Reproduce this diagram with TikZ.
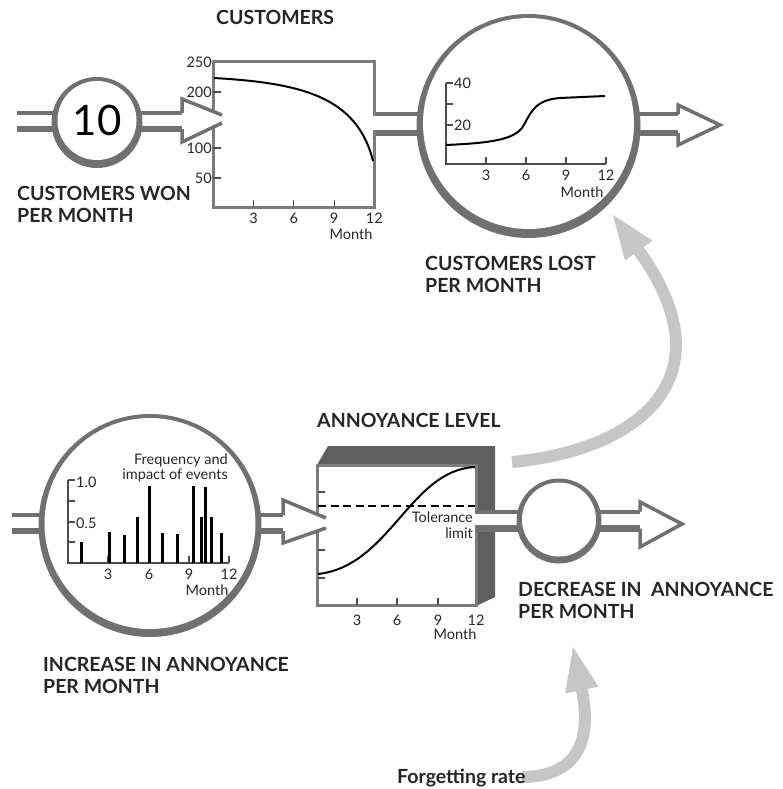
\documentclass[tikz,border=0pt]{standalone}
\usepackage{fontspec}
\setmainfont{Lato}
\usetikzlibrary{arrows.meta}
\definecolor{pipegray}{HTML}{707070}
\definecolor{slabgray}{HTML}{5E5E5E}
\definecolor{framegray}{HTML}{7C7C7C}
\definecolor{linkgray}{HTML}{C6C6C6}
\tikzset{
  caption/.style={anchor=base west, align=left, inner sep=0pt,
    font=\bfseries\fontsize{19.5}{22}\selectfont, text=black!85},
  ticklabel/.style={inner sep=1pt, font=\fontsize{14.5}{15.5}\selectfont, text=black!85},
  pipetop/.style={draw=pipegray, line width=4pt},
  pipebottom/.style={draw=pipegray, line width=6.5pt},
  pipehead/.style={draw=pipegray, line width=3.5pt, line join=miter},
  valve/.style={circle, fill=white, inner sep=0pt},
  chartbox/.style={draw=framegray, line width=3pt, fill=white, inner sep=0pt},
  chartaxis/.style={draw=black!70, line width=1.1pt},
  trend/.style={draw=black, line width=2pt},
  eventbar/.style={draw=black, line width=3pt},
  tolerance/.style={draw=black, line width=2pt, dash pattern=on 8pt off 4.5pt},
  link/.style={draw=linkgray, line width=12pt,
    -{Triangle[width=34pt,length=44pt,line width=0pt]}},
}

\begin{document}
\begin{tikzpicture}[x=1pt,y=-1pt]
  \useasboundingbox (0,0) rectangle (782,789);

  \newcommand\MonthW{13.4}

  % top row: flows in and out of the customers stock
  \draw[pipetop] (17,113) -- (182,113);
  \draw[pipebottom] (17,129) -- (182,129);
  \draw[pipetop] (374,114.5) -- (678,114.5);
  \draw[pipebottom] (374,133) -- (678,133);

  \fill[pipegray] (97,122.5) circle (45.5pt);
  \node[valve, minimum size=79pt] (won) at (97,120.5) {\fontsize{42}{42}\selectfont 10};
  \fill[pipegray] (528.5,126) circle (112pt);
  \node[valve, minimum size=211pt] (lost) at (528.5,123.5) {};

  \node[chartbox, minimum width=161pt, minimum height=145pt] (customers) at (293.5,134.5) {};
  \foreach \y in {92,120,148,178}
    \draw[chartaxis] (213,\y) -- (221,\y);
  \foreach \v/\y in {250/62,200/92,100/148,50/178}
    \node[ticklabel, anchor=east] (cy\v) at (213,\y) {\v};
  \foreach \m in {3,6,9}
    \draw[chartaxis] (213.5+\MonthW*\m,207) -- ++(0,-7);
  \foreach \m in {3,6,9,12}
    \node[ticklabel] (cx\m) at (213.5+\MonthW*\m,218) {\m};
  \node[ticklabel] (cmonth) at (351,234) {Month};
  \draw[trend] (214,78) .. controls (300,83) and (357,96) .. (373,161);
  \fill[white] (371,116.5) rectangle (377,129.75);

  % hollow arrow heads
  \fill[white] (182,99) -- (222,115) -- (222,123) -- (182,142) -- cycle;
  \draw[pipehead] (182,113) -- (182,99) -- (222,115);
  \draw[pipehead] (182,129) -- (182,142) -- (222,123);
  \filldraw[pipehead, fill=white] (678,114.5) -- (678,105) -- (720,125) -- (678,145) -- (678,133);

  % chart inside the outflow valve
  \draw[chartaxis] (446,83) -- (446,164) -- (606,164);
  \foreach \y in {83,104,125}
    \draw[chartaxis] (446,\y) -- ++(7,0);
  \node[ticklabel, anchor=west] (ly40) at (453,83) {40};
  \node[ticklabel, anchor=west] (ly20) at (453,125) {20};
  \foreach \m in {3,6,9,12} {
    \draw[chartaxis] (446+13.33*\m,164) -- ++(0,-7);
    \node[ticklabel] (lx\m) at (446+13.33*\m,175) {\m};
  }
  \node[ticklabel] (lmonth) at (582,192) {Month};
  \draw[trend] (446,145) .. controls (490,143) and (512,140) .. (522,128)
    .. controls (530,116) and (532,100) .. (560,98) -- (605,96);

  % bottom row: annoyance level stock
  \fill[slabgray] (317,465) -- (328,446) -- (495,446) -- (495,597) -- (476,606) -- (476,465) -- cycle;
  \node[chartbox, minimum width=159pt, minimum height=140pt] (annoyance) at (396.5,535) {};
  \foreach \y in {492,521,550,578}
    \draw[chartaxis] (318,\y) -- ++(7,0);
  \foreach \m/\x in {3/357,6/397,9/438}
    \draw[chartaxis] (\x,605) -- ++(0,-7);
  \foreach \m/\x in {3/357,6/397,9/438,12/476}
    \node[ticklabel] (ax\m) at (\x,620) {\m};
  \node[ticklabel] (amonth) at (455,634) {Month};
  \draw[tolerance] (318,506) -- (475,506);
  \draw[trend] (318,574) .. controls (390,566) and (410,470) .. (475,467);
  \node[ticklabel, align=right, anchor=east] (tol) at (474,525) {Tolerance\\limit};

  \draw[pipetop] (12,515) -- (283,515);
  \draw[pipebottom] (12,531) -- (283,531);
  \fill[white] (283,500) -- (326,518) -- (326,528) -- (283,543) -- cycle;
  \draw[pipehead] (283,515) -- (283,500) -- (326,518);
  \draw[pipehead] (283,531) -- (283,543) -- (326,528);

  \fill[white] (474,513.75) rectangle (640,525.25);
  \draw[pipetop] (476,511.5) -- (640,511.5);
  \draw[pipebottom] (476,528.5) -- (640,528.5);
  \filldraw[pipehead, fill=white] (640,511.5) -- (640,502) -- (682,524) -- (640,547) -- (640,528.5);

  \fill[pipegray] (150,525.5) circle (111.5pt);
  \node[valve, minimum size=211pt] (increase) at (150,523.5) {};
  \fill[pipegray] (559,521) circle (42.5pt);
  \node[valve, minimum size=74pt] (decrease) at (559,519.5) {};

  % events inside the inflow valve
  \draw[chartaxis] (68,480) -- (68,563) -- (229,563);
  \foreach \y in {480,501,522,542}
    \draw[chartaxis] (68,\y) -- ++(7,0);
  \node[ticklabel, anchor=west] (ey10) at (75,482) {1.0};
  \node[ticklabel, anchor=west] (ey05) at (75,523) {0.5};
  \foreach \m/\x in {3/108,6/149,9/189,12/229} {
    \draw[chartaxis] (\x,563) -- ++(0,-7);
    \node[ticklabel] (ex\m) at (\x,574) {\m};
  }
  \node[ticklabel] (emonth) at (207,590) {Month};
  \foreach \x/\y in {81/542,109/532,124/535,137/517,149/486,162/533,177/534,
                     193/486,201/517,205/487,211/517,221/533}
    \draw[eventbar] (\x,563) -- (\x,\y);
  \node[ticklabel, align=right, anchor=east] (events) at (229,468) {Frequency and\\impact of events};

  % influences
  \coordinate (annoyout) at (512,462);
  \coordinate (lostin) at (613,215);
  \draw[link] (annoyout) .. controls (640,450) and (730,377) .. (lostin);
  \coordinate (forget) at (522,777);
  \coordinate (decreasein) at (573,647);
  \draw[link] (forget) .. controls (565,777) and (595,754) .. (decreasein);

  % captions (base is the last line)
  \node[caption] (lblcustomers) at (216,25) {CUSTOMERS};
  \node[caption] (lblwon) at (17,222) {CUSTOMERS WON\\PER MONTH};
  \node[caption] (lbllost) at (425,292) {CUSTOMERS LOST\\PER MONTH};
  \node[caption] (lblannoy) at (317,427) {ANNOYANCE LEVEL};
  \node[caption] (lblincrease) at (43,693) {INCREASE IN ANNOYANCE\\PER MONTH};
  \node[caption] (lbldecrease) at (518,618) {DECREASE IN\ \ ANNOYANCE\\PER MONTH};
  \node[caption] (lblforget) at (397,783) {Forgetting rate};

\end{tikzpicture}
\end{document}
